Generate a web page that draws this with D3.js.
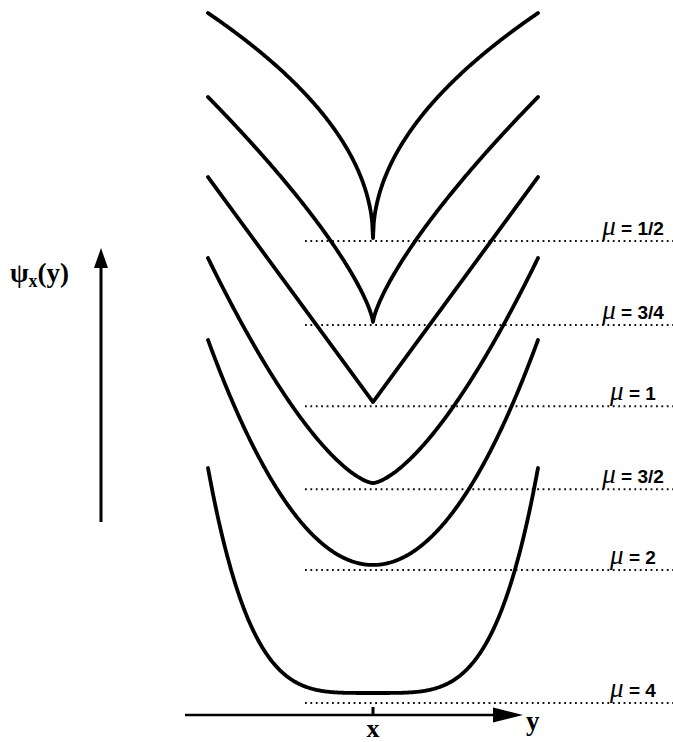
<!DOCTYPE html>
<meta charset="utf-8">
<style>
body{ margin:0; background:#fff; }
.curve{ fill:none; stroke:#000; stroke-width:3.8px; stroke-linecap:round; stroke-linejoin:round; }
.base{ stroke:#111; stroke-width:2px; stroke-dasharray:1.8,3.6; }
.lab{ font-family:"Liberation Sans", Arial, sans-serif; font-size:19px; font-weight:bold; fill:#000; }
.mu{ font-family:"Liberation Serif", "Times New Roman", serif; font-style:italic; font-weight:normal; font-size:27px; }
.ax{ font-family:"Liberation Serif", "Times New Roman", serif; font-weight:bold; fill:#000; }
</style>
<body>
<script src="https://d3js.org/d3.v7.min.js"></script>
<script>

// exponents and their labels, top to bottom
var mus    = [0.5, 0.75, 1, 1.5, 2, 4];
var labels = ['1/2', '3/4', '1', '3/2', '2', '4'];
// level of each curve minimum (in curve-height units) and of its dotted line
var curveBase = [2.022, 1.649, 1.293, 0.933, 0.569, 0];
var lineLevel = [2.009, 1.636, 1.275, 0.906, 0.547, -0.044];
var samples = d3.range(-1, 1.0001, 0.005);

var svg = d3.select("body").append("svg").attr("width", 673).attr("height", 742);

var x = d3.scaleLinear().domain([-1, 1]).range([208, 538]);
var y = d3.scaleLinear().domain([0, 1]).range([693, 468]);

var line = d3.line()
	.x(d=>x(d[0]))
	.y(d=>y(d[1]));

var rows = mus.map((m,i)=>({mu:m, label:labels[i], base:curveBase[i], lvl:lineLevel[i]}));

// dotted base lines
svg.selectAll(".base").data(rows).enter().append("line").attr("class","base")
	.attr("x1", 305).attr("x2", 673)
	.attr("y1", d=>y(d.lvl)).attr("y2", d=>y(d.lvl));

// curves |y-x|^mu
svg.selectAll(".curve").data(rows).enter().append("path").attr("class","curve")
	.attr("d", d=>line(samples.map(t=>[t, d.base + Math.pow(Math.abs(t), d.mu)])));

// labels
var lab = svg.selectAll(".lab").data(rows).enter().append("text").attr("class","lab")
	.attr("x", 633)
	.attr("y", d=>y(d.lvl) - 6)
	.attr("text-anchor","middle");
lab.append("tspan").attr("class","mu").text("\u03bc");
lab.append("tspan").text(d=>" = " + d.label);

// vertical arrow
svg.append("line").attr("x1",101).attr("x2",101).attr("y1",522).attr("y2",265)
	.attr("stroke","#000").attr("stroke-width",3);
svg.append("path").attr("d","M101,248 L94,268 L108,268 Z").attr("fill","#000");

var psi = svg.append("text").attr("class","ax").attr("x",10).attr("y",282).style("font-size","27px");
psi.append("tspan").text("\u03c8");
psi.append("tspan").attr("dy",5).style("font-size","18px").text("x");
psi.append("tspan").attr("dy",-5).text("(y)");

// horizontal arrow
svg.append("line").attr("x1",185).attr("x2",500).attr("y1",715).attr("y2",715)
	.attr("stroke","#000").attr("stroke-width",2.6);
svg.append("path").attr("d","M523,715 L493,707.5 L493,722.5 Z").attr("fill","#000");
svg.append("line").attr("x1",x(0)).attr("x2",x(0)).attr("y1",707).attr("y2",715)
	.attr("stroke","#000").attr("stroke-width",3);

svg.append("text").attr("class","ax").attr("x",x(0)).attr("y",737).attr("text-anchor","middle")
	.style("font-size","26px").text("x");
svg.append("text").attr("class","ax").attr("x",526).attr("y",730)
	.style("font-size","27px").text("y");
</script>
</body>
